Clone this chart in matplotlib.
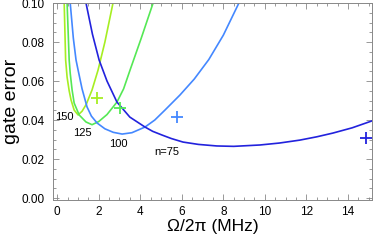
import matplotlib
matplotlib.use("Agg")
import matplotlib.pyplot as plt
from matplotlib.ticker import MultipleLocator, FormatStrFormatter

plt.rcParams["font.family"] = ["Liberation Sans", "DejaVu Sans"]

# gate error vs Rabi frequency for several ion numbers n
n150_x = [0.34, 0.41, 0.48, 0.58, 0.67, 0.82, 1.01, 1.20, 1.40, 1.68, 1.97, 2.30, 2.69]
n150_y = [0.100, 0.0708, 0.0620, 0.0550, 0.0503, 0.0451, 0.0426, 0.0445, 0.0480, 0.0554, 0.0656, 0.080, 0.100]

n125_x = [0.48, 0.58, 0.63, 0.72, 0.82, 1.06, 1.39, 1.68, 2.00, 2.40, 2.88, 3.20, 3.51, 4.05, 4.62]
n125_y = [0.100, 0.0708, 0.0640, 0.0555, 0.0487, 0.0426, 0.0390, 0.0376, 0.0392, 0.0428, 0.0492, 0.0560, 0.0656, 0.082, 0.100]

n100_x = [0.63, 0.78, 0.91, 1.01, 1.20, 1.44, 1.65, 1.92, 2.30, 2.70, 3.13, 3.60, 4.23, 4.70, 5.19,
          5.91, 6.60, 7.30, 8.00, 8.75]
n100_y = [0.100, 0.082, 0.0708, 0.0656, 0.0560, 0.0467, 0.0420, 0.0385, 0.0355, 0.0337, 0.0328, 0.0335,
          0.0364, 0.0400, 0.0451, 0.0528, 0.061, 0.071, 0.0835, 0.100]

n75_x = [1.39, 1.70, 2.02, 2.40, 2.88, 3.50, 4.23, 4.60, 5.05, 5.50, 6.06, 6.80, 7.69, 8.50, 9.76,
         10.70, 11.68, 12.50, 13.27, 14.20, 15.14]
n75_y = [0.100, 0.084, 0.0708, 0.0600, 0.0492, 0.0415, 0.0364, 0.0342, 0.0323, 0.0305, 0.0287, 0.0275,
         0.0267, 0.0265, 0.0272, 0.0282, 0.0297, 0.0314, 0.0333, 0.0360, 0.0395]

# "+" markers (one per n)
mark_x = [1.92, 3.03, 5.77, 14.86]
mark_y = [0.0513, 0.0462, 0.0415, 0.0308]

labels = ["150", "125", "100", "n=75"]
label_x = [0.34, 1.23, 2.96, 5.29]
label_y = [0.0415, 0.0333, 0.0277, 0.0236]

colors = ["#a6ee22", "#55e855", "#4488ff", "#2222dd"]

fig = plt.figure(figsize=(3.73, 2.40), dpi=100)
ax = fig.add_axes([0.142, 0.1667, 0.855, 0.8208])

curves = [(n150_x, n150_y), (n125_x, n125_y), (n100_x, n100_y), (n75_x, n75_y)]
for (xs, ys), c in zip(curves, colors):
    ax.plot(xs, ys, color=c, lw=1.2)
for mx, my, c in zip(mark_x, mark_y, colors):
    ax.plot(mx, my, marker="+", color=c, ms=9, mew=1.3, ls="none")
for t, lx, ly in zip(labels, label_x, label_y):
    ax.text(lx, ly, t, fontsize=8, ha="center", va="center")

ax.set_xlim(-0.2, 15.15)
ax.set_ylim(-0.001, 0.100)
ax.xaxis.set_major_locator(MultipleLocator(2))
ax.xaxis.set_minor_locator(MultipleLocator(0.5))
ax.yaxis.set_major_locator(MultipleLocator(0.02))
ax.yaxis.set_minor_locator(MultipleLocator(0.005))
ax.yaxis.set_major_formatter(FormatStrFormatter("%.2f"))
ax.tick_params(which="both", direction="in", top=True, right=True,
               color="#888888", labelsize=8.5)
ax.tick_params(which="major", length=4, width=0.6)
ax.tick_params(which="minor", length=2, width=0.6)
ax.tick_params(axis="y", pad=6)
ax.tick_params(axis="x", pad=4)
for s in ax.spines.values():
    s.set_color("#888888")
    s.set_linewidth(0.7)

ax.set_xlabel("Ω/2π (MHz)", fontsize=12.5, labelpad=1)
ax.set_ylabel("gate error", fontsize=14, labelpad=1)

fig.savefig("out.png", dpi=100)
